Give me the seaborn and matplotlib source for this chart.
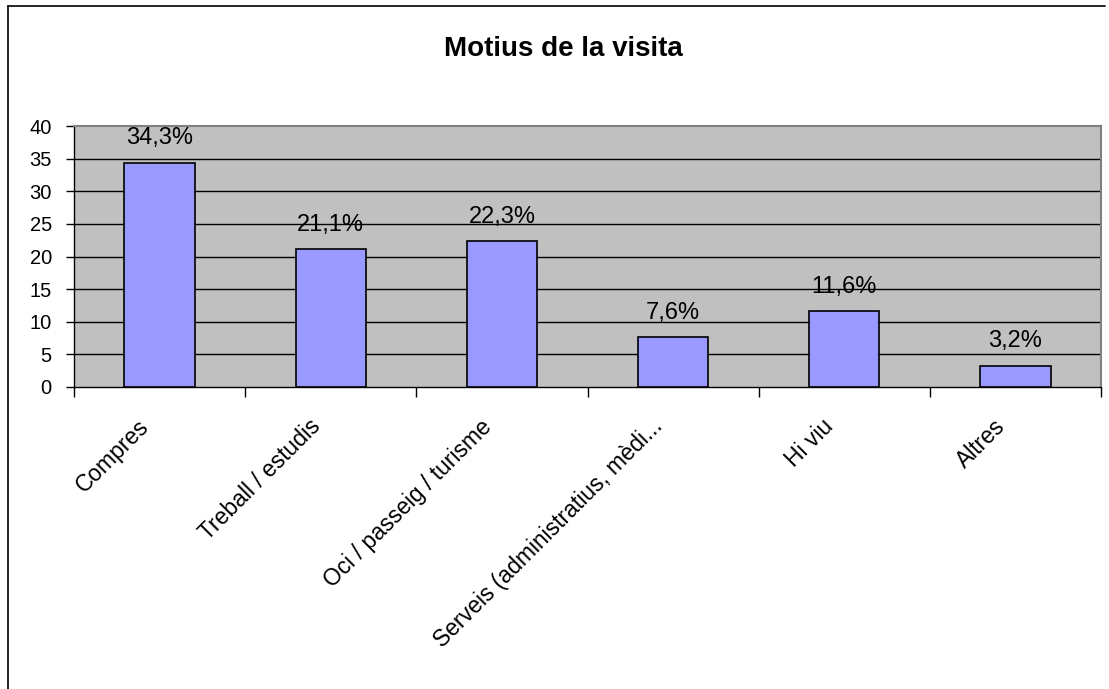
import matplotlib
matplotlib.use('Agg')
import matplotlib.pyplot as plt
import matplotlib.transforms as mtransforms
import seaborn as sns
import pandas as pd
from matplotlib.lines import Line2D

categories = ['Compres', 'Treball / estudis', 'Oci / passeig / turisme',
              'Serveis (administratius, mèdi...', 'Hi viu', 'Altres']
values = [34.3, 21.1, 22.3, 7.6, 11.6, 3.2]
labels = ['34,3%', '21,1%', '22,3%', '7,6%', '11,6%', '3,2%']
yticks = [0, 5, 10, 15, 20, 25, 30, 35, 40]

sns.set_style('white')
plt.rcParams['font.family'] = ['Liberation Sans', 'DejaVu Sans']
plt.rcParams['text.color'] = 'black'
plt.rcParams['xtick.color'] = 'black'
plt.rcParams['ytick.color'] = 'black'

df = pd.DataFrame({'motiu': categories, 'pct': values})

W, H = 1109, 689
fig = plt.figure(figsize=(W / 100, H / 100), dpi=100)
ax = fig.add_axes([74 / W, 1 - 387 / H, (1101 - 74) / W, (387 - 126) / H])

ax.set_facecolor('#C0C0C0')
sns.barplot(data=df, x='motiu', y='pct', color='#9999FF', width=0.41,
            edgecolor='black', linewidth=1.2, saturation=1, ax=ax, zorder=3)

ax.set_ylim(0, 40)
ax.set_xlim(-0.5, len(categories) - 0.5)
ax.set_yticks(yticks)
ax.set_yticklabels([str(t) for t in yticks], fontsize=14.5)
for t in yticks[1:-1]:
    ax.axhline(t, color='black', linewidth=1, zorder=1)

# ticks between categories on x axis
ax.set_xticks([i - 0.5 for i in range(len(categories) + 1)], minor=True)
ax.tick_params(axis='x', which='minor', length=7, width=1, color='black', direction='out', bottom=True)
ax.tick_params(axis='x', which='major', length=0, pad=26)
ax.tick_params(axis='y', length=6, width=1, color='black', direction='out', left=True, pad=10)
ax.set_xticks(range(len(categories)))
ax.set_xticklabels(categories, rotation=45, ha='right', va='center',
                   rotation_mode='anchor', fontsize=16.5)
shift = mtransforms.ScaledTranslation(-14 / 100, 0, fig.dpi_scale_trans)
for lbl in ax.get_xticklabels():
    lbl.set_transform(lbl.get_transform() + shift)

for s in ['top', 'right']:
    ax.spines[s].set_color('#808080')
    ax.spines[s].set_linewidth(1.5)
for s in ['left', 'bottom']:
    ax.spines[s].set_color('black')
    ax.spines[s].set_linewidth(1)

for i, (v, lab) in enumerate(zip(values, labels)):
    ax.annotate(lab, (i, v), xytext=(0, 13.5), textcoords='offset points',
                ha='center', va='baseline', fontsize=17, zorder=4)

ax.set_xlabel('')
ax.set_ylabel('')
fig.text(563.5 / W, 1 - 49 / H, 'Motius de la visita',
         ha='center', va='center', fontsize=20, fontweight='bold')

# chart frame
fig.add_artist(Line2D([8 / W, 8 / W], [0, 1 - 6 / H], color='black', linewidth=1.2, transform=fig.transFigure))
fig.add_artist(Line2D([8 / W, 1105 / W], [1 - 6 / H, 1 - 6 / H], color='black', linewidth=1.2, transform=fig.transFigure))

fig.savefig('out.png', dpi=100, facecolor='white')
